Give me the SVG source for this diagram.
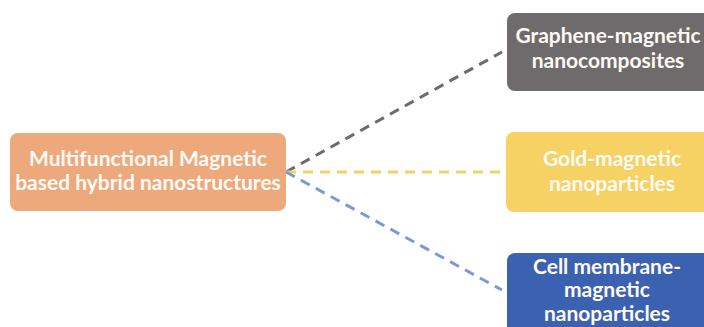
<svg xmlns="http://www.w3.org/2000/svg" width="704" height="327" viewBox="0 0 704 327">
  <style>
    .box { stroke: none; }
    .lbl { font-family: Lato, "Open Sans", "Liberation Sans", sans-serif; font-weight: bold; font-size: 21px; fill: #fffaf5; text-anchor: middle; }
    .link { fill: none; stroke-width: 3; stroke-dasharray: 10 7; }
  </style>
  <rect width="704" height="327" fill="#ffffff"/>

  <!-- dashed connectors from the root node -->
  <g id="connectors">
    <line class="link" x1="286" y1="172" x2="502" y2="52" stroke="#6f6b6c"/>
    <line class="link" x1="286" y1="172" x2="506" y2="172" stroke="#f5d164"/>
    <line class="link" x1="286" y1="172" x2="502" y2="290" stroke="#7b99d5"/>
  </g>

  <g id="root">
    <rect class="box" x="10" y="133" width="276" height="78" rx="8" fill="#eda97c"/>
    <text class="lbl" x="148" y="166">Multifunctional Magnetic</text>
    <text class="lbl" x="148" y="190">based hybrid nanostructures</text>
  </g>

  <g id="graphene">
    <rect class="box" x="507" y="13" width="205" height="78" rx="8" fill="#6f6b6c"/>
    <text class="lbl" x="608" y="43">Graphene-magnetic</text>
    <text class="lbl" x="608" y="68">nanocomposites</text>
  </g>

  <g id="gold">
    <rect class="box" x="506" y="132" width="206" height="80" rx="8" fill="#f6d164"/>
    <text class="lbl" x="612" y="166">Gold-magnetic</text>
    <text class="lbl" x="612" y="191">nanoparticles</text>
  </g>

  <g id="cell">
    <rect class="box" x="507" y="253" width="205" height="90" rx="8" fill="#3b62b1"/>
    <text class="lbl" x="607" y="274">Cell membrane-</text>
    <text class="lbl" x="607" y="297">magnetic</text>
    <text class="lbl" x="607" y="321">nanoparticles</text>
  </g>
</svg>
